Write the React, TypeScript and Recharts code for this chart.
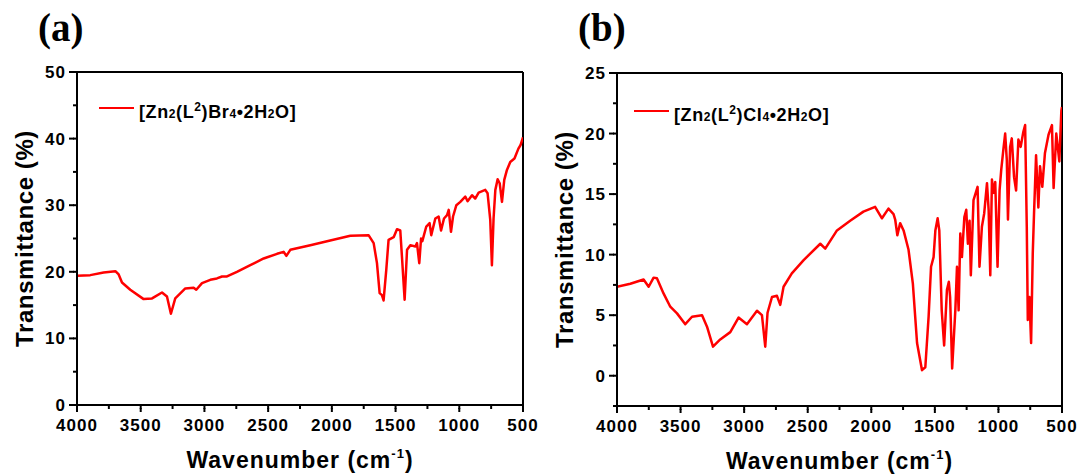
import { Line, LineChart, ReferenceLine, XAxis, YAxis } from 'recharts';

// (a) [Zn2(L2)Br4·2H2O] spectrum
const wavenumberA = [
  4000, 3896, 3791, 3699, 3673, 3647, 3582, 3477, 3411, 3333, 3294, 3263, 3229, 3150, 3085, 3064, 3019,
  2954, 2902, 2862, 2823, 2745, 2640, 2535, 2430, 2379, 2357, 2326, 2169, 2013, 1855, 1712, 1672, 1646,
  1625, 1607, 1594, 1573, 1555, 1515, 1489, 1463, 1450, 1429, 1410, 1384, 1345, 1332, 1314, 1300, 1290,
  1259, 1233, 1220, 1188, 1162, 1143, 1120, 1096, 1083, 1065, 1049, 1023, 992, 953, 935, 900, 875, 848,
  796, 778, 757, 744, 731, 717, 699, 683, 665, 647, 626, 600, 567, 536, 520, 500,
];
const transmittanceA = [
  19.4, 19.5, 19.9, 20.1, 19.6, 18.4, 17.3, 15.9, 16.0, 16.9, 16.3, 13.7, 16.0, 17.5, 17.6, 17.3, 18.3,
  18.8, 19.0, 19.3, 19.3, 20.0, 21.0, 22.0, 22.7, 23.0, 22.4, 23.3, 24.0, 24.7, 25.4, 25.5, 24.3, 21.3,
  16.8, 16.5, 15.7, 20.3, 24.8, 25.2, 26.4, 26.2, 22.3, 15.8, 23.3, 24.0, 23.8, 24.3, 21.3, 25.0, 24.6,
  26.8, 27.3, 25.5, 28.0, 28.3, 26.2, 28.0, 28.5, 29.3, 26.0, 28.3, 30.0, 30.5, 31.3, 30.6, 31.5, 31.0, 31.9,
  32.3, 31.8, 27.8, 21.0, 28.0, 32.3, 33.9, 33.3, 30.5, 33.8, 35.3, 36.5, 37.0, 38.5, 39.0, 40.2,
];

// (b) [Zn2(L2)Cl4·2H2O] spectrum
const wavenumberB = [
  4000, 3895, 3791, 3751, 3712, 3686, 3634, 3581, 3528, 3463, 3410, 3331, 3292, 3245, 3188, 3109, 3044,
  2978, 2899, 2860, 2834, 2816, 2781, 2742, 2716, 2690, 2625, 2532, 2401, 2362, 2270, 2166, 2062, 1970,
  1916, 1865, 1825, 1812, 1795, 1773, 1746, 1707, 1673, 1640, 1601, 1575, 1549, 1530, 1510, 1496, 1478,
  1465, 1446, 1427, 1405, 1390, 1380, 1364, 1339, 1326, 1313, 1300, 1287, 1268, 1253, 1240, 1227, 1217,
  1196, 1164, 1149, 1130, 1112, 1090, 1077, 1064, 1051, 1038, 1025, 1007, 991, 978, 960, 947, 934, 925,
  908, 895, 877, 861, 843, 825, 804, 790, 777, 769, 756, 743, 730, 720, 704, 686, 673, 655, 634, 606, 579,
  566, 545, 521, 505, 500,
];
const transmittanceB = [
  7.35, 7.6, 7.95, 7.35, 8.1, 8.05, 6.8, 5.7, 5.15, 4.26, 4.87, 5.0, 4.05, 2.4, 3.0, 3.6, 4.8,
  4.26, 5.37, 5.0, 2.4, 5.2, 6.5, 6.6, 5.85, 7.35, 8.45, 9.55, 10.9, 10.5, 12.0, 12.8, 13.55, 13.95,
  13.0, 13.8, 13.35, 12.9, 11.6, 12.6, 12.0, 10.4, 7.6, 2.7, 0.46, 0.7, 4.9, 9.0, 9.8, 12.0, 13.0,
  12.0, 5.4, 2.5, 7.1, 7.76, 6.5, 0.6, 5.4, 9.0, 5.4, 11.75, 9.8, 13.1, 13.7, 10.9, 12.8, 8.3,
  14.5, 15.6, 9.0, 12.3, 13.4, 15.9, 13.7, 8.3, 16.2, 15.1, 16.0, 9.0, 15.3, 17.0, 18.8, 20.0, 17.8, 12.9,
  18.9, 19.6, 16.4, 15.3, 19.5, 18.9, 20.15, 20.7, 12.3, 4.6, 6.5, 2.7, 10.1, 13.4, 18.2, 13.9, 17.3, 15.6, 18.4, 19.9, 20.7,
  15.5, 20.0, 17.7, 21.9, 22.2,
];

const xTicks = [4000, 3750, 3500, 3250, 3000, 2750, 2500, 2250, 2000, 1750, 1500, 1250, 1000, 750, 500];
const yTicksA = [0, 5, 10, 15, 20, 25, 30, 35, 40, 45, 50];
const yTicksB = [-2.5, 0, 2.5, 5, 7.5, 10, 12.5, 15, 17.5, 20, 22.5, 25];

const FONT = "'Liberation Sans', Arial, sans-serif";
const RED = '#ff0000';
const TICK = 4; // built-in (minor) tick length; majors get extended in the tick renderer

const seriesA = wavenumberA.map((w, i) => ({ wavenumber: w, transmittance: transmittanceA[i] }));
const seriesB = wavenumberB.map((w, i) => ({ wavenumber: w, transmittance: transmittanceB[i] }));

// x, y arrive at the outer end of the built-in tick line
const renderXTick = (props: any) => {
  const { x, y, payload } = props;
  const v = payload.value as number;
  if (v % 500 !== 0) return <g />;
  return (
    <g>
      <line x1={x} x2={x} y1={y - 1} y2={y + 3} stroke='#000' strokeWidth={2} />
      <text x={x} y={y + 22} textAnchor='middle' fontFamily={FONT} fontWeight='bold' fontSize={17} letterSpacing={1} fill='#000'>
        {v}
      </text>
    </g>
  );
};

const makeYTick = (step: number) => (props: any) => {
  const { x, y, payload } = props;
  const v = payload.value as number;
  if (v % step !== 0) return <g />;
  return (
    <g>
      <line x1={x + 1} x2={x - 4} y1={y} y2={y} stroke='#000' strokeWidth={2} />
      <text x={x - 7} y={y + 6} textAnchor='end' fontFamily={FONT} fontWeight='bold' fontSize={17} letterSpacing={1} fill='#000'>
        {v}
      </text>
    </g>
  );
};

const xTitle = (props: any) => {
  const { x, y, width } = props.viewBox;
  return (
    <text x={x + width / 2} y={y + 63} textAnchor='middle' fontFamily={FONT} fontWeight='bold' fontSize={23} letterSpacing={1} fill='#000'>
      Wavenumber (cm
      <tspan dy={-10} fontSize={13}>-1</tspan>
      <tspan dy={10}>)</tspan>
    </text>
  );
};

const yTitle = (props: any) => {
  const { x, y, height } = props.viewBox;
  const cx = x + 7;
  const cy = y + height / 2;
  return (
    <text x={cx} y={cy} transform={`rotate(-90 ${cx} ${cy})`} textAnchor='middle' dominantBaseline='central' fontFamily={FONT} fontWeight='bold' fontSize={24} letterSpacing={0.6} fill='#000'>
      Transmittance (%)
    </text>
  );
};

type PanelProps = {
  left: number;
  width: number;
  letter: string;
  data: { wavenumber: number; transmittance: number }[];
  yDomain: [number, number];
  yTicks: number[];
  yStep: number;
  top: number;
  marginRight: number;
  xAxisHeight: number;
  legendX: number;
  legendY: number;
  halide: string;
};

function Panel(p: PanelProps) {
  return (
    <div style={{ position: 'absolute', left: p.left, top: 0, width: p.width, height: 476 }}>
      <LineChart
        width={p.width}
        height={476}
        data={p.data}
        margin={{ top: p.top, right: p.marginRight, bottom: 0, left: 17 }}
      >
        <XAxis
          dataKey='wavenumber'
          type='number'
          domain={[500, 4000]}
          reversed
          allowDataOverflow
          ticks={xTicks}
          interval={0}
          tickLine={{ stroke: '#000', strokeWidth: 2 }}
          tickSize={TICK}
          tickMargin={0}
          height={p.xAxisHeight}
          axisLine={{ stroke: '#000', strokeWidth: 2 }}
          tick={renderXTick}
          label={xTitle}
        />
        <YAxis
          type='number'
          domain={p.yDomain}
          allowDataOverflow
          ticks={p.yTicks}
          interval={0}
          tickLine={{ stroke: '#000', strokeWidth: 2 }}
          tickSize={TICK}
          tickMargin={0}
          width={60}
          axisLine={{ stroke: '#000', strokeWidth: 2 }}
          tick={makeYTick(p.yStep)}
          label={yTitle}
        />
        <ReferenceLine y={p.yDomain[1]} stroke='#000' strokeWidth={2} />
        <ReferenceLine x={500} stroke='#000' strokeWidth={2} />
        <Line
          dataKey='transmittance'
          type='linear'
          stroke={RED}
          strokeWidth={2.5}
          strokeLinejoin='round'
          dot={false}
          isAnimationActive={false}
        />
      </LineChart>

      <div
        style={{
          position: 'absolute',
          left: 38,
          top: 8,
          fontFamily: "'Liberation Serif', 'Times New Roman', serif",
          fontWeight: 'bold',
          fontSize: 39,
          lineHeight: 1,
          color: '#000',
        }}
      >
        {p.letter}
      </div>

      <div style={{ position: 'absolute', left: p.legendX, top: p.legendY - 1, width: 35, height: 2, background: RED }} />
      <div
        style={{
          position: 'absolute',
          left: p.legendX + 40,
          top: p.legendY - 11,
          fontFamily: FONT,
          fontWeight: 'bold',
          fontSize: 18,
          lineHeight: '20px',
          letterSpacing: 0.6,
          color: '#000',
          whiteSpace: 'nowrap',
        }}
      >
        [Zn<span style={{ fontSize: 12 }}>2</span>(L<span style={{ fontSize: 12, verticalAlign: 7 }}>2</span>){p.halide}
        <span style={{ fontSize: 12 }}>4</span>•2H<span style={{ fontSize: 12 }}>2</span>O]
      </div>
    </div>
  );
}

export default function App() {
  return (
    <div style={{ position: 'absolute', left: 0, top: 0, width: 1083, height: 476, background: '#fff', overflow: 'hidden' }}>
      <Panel
        left={0}
        width={540}
        letter='(a)'
        data={seriesA}
        yDomain={[0, 50]}
        yTicks={yTicksA}
        yStep={10}
        top={72}
        marginRight={17}
        xAxisHeight={71}
        legendX={99}
        legendY={108}
        halide='Br'
      />
      <Panel
        left={540}
        width={543}
        letter='(b)'
        data={seriesB}
        yDomain={[-2.5, 25]}
        yTicks={yTicksB}
        yStep={5}
        top={73}
        marginRight={21}
        xAxisHeight={70}
        legendX={94}
        legendY={111}
        halide='Cl'
      />
    </div>
  );
}
